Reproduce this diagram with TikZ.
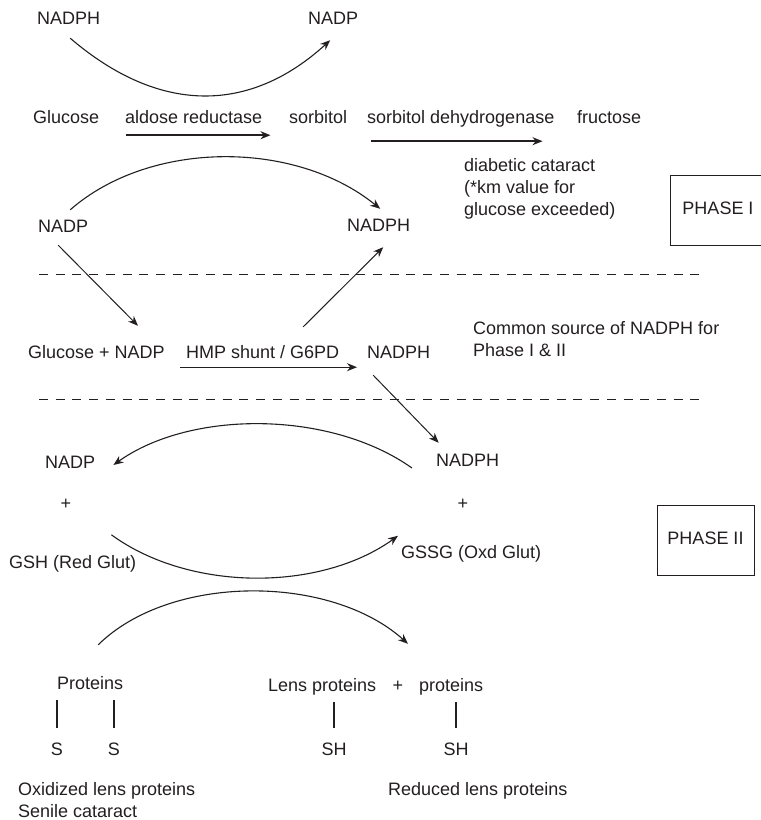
\documentclass[tikz,border=0pt]{standalone}
\usepackage{fontspec}
\setmainfont{Liberation Sans}
\usetikzlibrary{arrows.meta}
\definecolor{ink}{RGB}{35,31,32}
\begin{document}
\begin{tikzpicture}[x=1pt,y=-1pt]

    \tikzset{
      txt/.style={
        inner sep=0pt,
        anchor=base west,
        text height=13pt,
        text depth=4pt,
        font=\fontsize{18}{22}\selectfont,
        text=ink,
      },
      para/.style={
        inner sep=0pt,
        anchor=base west,
        align=left,
        font=\fontsize{18}{22}\selectfont,
        text=ink,
      },
      phase/.style={
        draw=ink,
        line width=1pt,
        minimum width=91pt,
        minimum height=70pt,
        inner sep=0pt,
        text height=13pt,
        text depth=4pt,
        font=\fontsize{18}{22}\selectfont,
        text=ink,
      },
      flow/.style={draw=ink, line width=1pt, -{Stealth[length=10pt,width=8pt]}},
      bar/.style={draw=ink, line width=1.7pt, shorten <=14pt, shorten >=7pt},
      sep/.style={draw=ink, line width=0.9pt, dash pattern=on 9pt off 7.7pt},
    }
    \clip (0,0) rectangle (761,820);

    % phase I
    \node[txt] (nadphA) at (37,24) {NADPH};
    \node[txt] (nadpA) at (308,24) {NADP};
    \node[txt] (glucA) at (33,123) {Glucose};
    \node[txt] (aldose) at (125,123) {aldose reductase};
    \node[txt] (sorbA) at (289,123) {sorbitol};
    \node[txt] (sdh) at (367,123) {sorbitol dehydrogenase};
    \node[txt] (fruc) at (577,123) {fructose};
    \node[para] (diab) at (464,215) {diabetic cataract\\(*km value for\\glucose exceeded)};
    \node[txt] (nadpB) at (38,232) {NADP};
    \node[txt] (nadphB) at (347,231) {NADPH};
    \node[phase, minimum width=95pt] (phaseA) at (718,210) {PHASE I};

    \draw[flow, line width=1.1pt] ([shift={(1.5,10)}]nadphA.south) .. controls +(90,77) and +(-80,73) .. ([shift={(-3,12)}]nadpA.south);
    \draw[flow, line width=1.6pt] ([shift={(1,8)}]aldose.south west) -- ([shift={(8,8)}]aldose.south east);
    \draw[flow, line width=1.6pt] ([shift={(4,14)}]sdh.south west) -- ([shift={(-12,14)}]sdh.south east);
    \draw[flow, line width=1.1pt] ([shift={(7,-9)}]nadpB.north) .. controls +(80,-70) and +(-85,-69) .. ([shift={(1.5,-9)}]nadphB.north);

    \draw[sep] (39,274) -- (700,274);

    % shunt
    \node[txt] (glunadp) at (28,358) {Glucose + NADP};
    \node[txt] (hmp) at (186,358) {HMP shunt / G6PD};
    \node[txt] (nadphC) at (367,358) {NADPH};
    \node[para] (common) at (473,356) {Common source of NADPH for\\Phase I \& II};

    \draw[flow] ([shift={(-5,9)}]nadpB.south) -- ([shift={(41.5,-19)}]glunadp.north);
    \draw[flow] ([shift={(40.5,-18)}]hmp.north) -- ([shift={(4.5,12)}]nadphB.south);
    \draw[flow, line width=1.4pt] ([shift={(-6,5)}]hmp.south west) -- ([shift={(-10,5)}]nadphC.south west);

    \draw[sep] (39,399) -- (700,399);

    % phase II
    \node[txt] (nadpD) at (45,468) {NADP};
    \node[txt] (nadphD) at (436,466) {NADPH};
    \node[txt, anchor=base] (plusA) at (66,509) {+};
    \node[txt, anchor=base] (plusB) at (463,509) {+};
    \node[txt] (gsh) at (9,568) {GSH (Red Glut)};
    \node[txt] (gssg) at (401,558) {GSSG (Oxd Glut)};
    \node[phase, minimum width=97pt] (phaseB) at (705.5,540) {PHASE II};

    \draw[flow] ([shift={(-25.5,13)}]nadphC.south) -- ([shift={(-29,-10)}]nadphD.north);
    \draw[flow, line width=1.1pt] ([shift={(-24,6.5)}]nadphD.west) .. controls +(-82,-58) and +(77,-55) .. ([shift={(18,1.5)}]nadpD.east);
    \draw[flow, line width=1.1pt] ([shift={(-25,-20)}]gsh.north east) .. controls +(78,57) and +(-78,56) .. ([shift={(-3,-9)}]gssg.north west);

    \node[txt] (protA) at (57,689) {Proteins};
    \node[txt] (lens) at (268,691) {Lens proteins};
    \node[txt, anchor=base] (plusC) at (398,691) {+};
    \node[txt] (protB) at (419,691) {proteins};
    \node[txt, anchor=base] (sA) at (57,755) {S};
    \node[txt, anchor=base] (sB) at (114,755) {S};
    \node[txt, anchor=base] (shA) at (334,755) {SH};
    \node[txt, anchor=base] (shB) at (456,755) {SH};
    \node[para] (oxid) at (18,817) {Oxidized lens proteins\\Senile cataract};
    \node[para] (reduced) at (388,795) {Reduced lens proteins};

    \draw[flow, line width=1.1pt] ([shift={(8,-31)}]protA.north) .. controls +(72,-71) and +(-78,-70) .. ([shift={(10,-34)}]plusC.north);
    \foreach \s/\p in {sA/protA, sB/protA, shA/lens, shB/protB}
      \draw[bar] (\s.north) -- (\s.north |- \p.south);

\end{tikzpicture}
\end{document}
